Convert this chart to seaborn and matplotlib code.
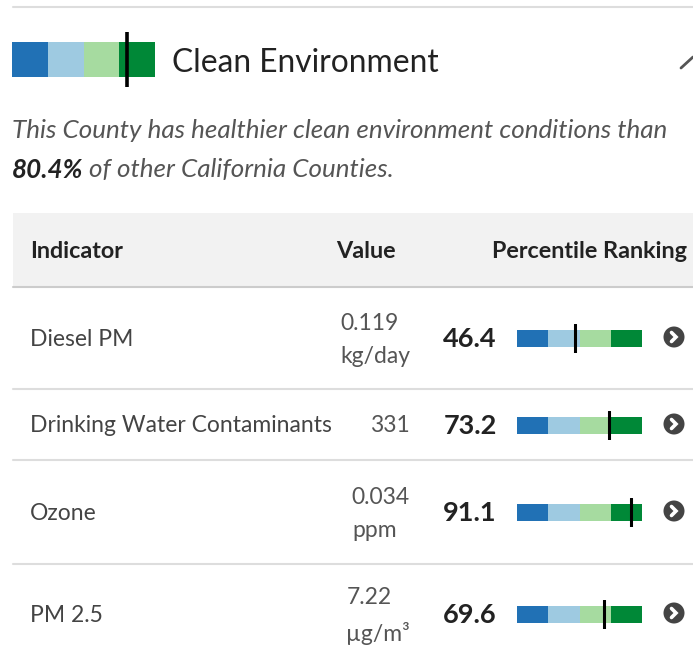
import matplotlib
matplotlib.use("Agg")
import matplotlib.pyplot as plt
from matplotlib.colors import ListedColormap
from matplotlib.patches import Circle, Rectangle
import numpy as np
import seaborn as sns

# ---- data ----
section_title = "Clean Environment"
overall_percentile = 80.4
indicators = ["Diesel PM", "Drinking Water Contaminants", "Ozone", "PM 2.5"]
values = ["0.119", "331", "0.034", "7.22"]
units = ["kg/day", "", "ppm", "µg/m³"]
percentiles = [46.4, 73.2, 91.1, 69.6]
quartile_colors = ["#2171b5", "#9ecae1", "#a6dba0", "#008837"]
header_labels = ["Indicator", "Value", "Percentile Ranking"]

sns.set_style("white")
plt.rcParams["font.family"] = ["Lato", "DejaVu Sans"]

W, H = 693, 648
fig = plt.figure(figsize=(W / 100, H / 100), dpi=100)
ax = fig.add_axes([0, 0, 1, 1])
ax.set_xlim(0, W)
ax.set_ylim(H, 0)
ax.axis("off")

cmap = ListedColormap(quartile_colors)


def gauge(x0, x1, y0, y1, pct, lw, ext):
    """Draw a quartile gauge in pixel box (x0..x1, y0..y1)."""
    iax = fig.add_axes([x0 / W, 1 - (y1 + ext) / H, (x1 - x0) / W, (y1 - y0 + 2 * ext) / H])
    sns.heatmap(np.array([[0, 1, 2, 3]]), cmap=cmap, cbar=False, ax=iax,
                xticklabels=False, yticklabels=False, vmin=-0.5, vmax=3.5)
    frac = ext / (y1 - y0)
    iax.set_ylim(1 + frac, -frac)
    iax.set_xlim(0, 4)
    iax.axvline(pct / 25.0, color="black", lw=lw, ymin=0, ymax=1)
    iax.patch.set_alpha(0)
    iax.axis("off")


# top rule
ax.plot([13, W], [7, 7], color="#dddddd", lw=1.5)

# header gauge + title
gauge(12, 155, 42, 77, overall_percentile, 2.6, 10)
ax.text(172, 63, section_title, fontsize=22.9, color="#222222", va="center", ha="left")
ax.plot([681, 693], [68, 57], color="#555555", lw=2)

# description
ax.text(12, 131, "This County has healthier clean environment conditions than",
        fontsize=18.7, style="italic", color="#555555", va="center", ha="left")
t1 = ax.text(12, 170, f"{overall_percentile}%", fontsize=18.7, style="italic",
             fontweight="bold", color="#222222", va="center", ha="left")
fig.canvas.draw()
r = fig.canvas.get_renderer()
bb = t1.get_window_extent(r)
ax.text(bb.x1 + 6, 170, "of other California Counties.", fontsize=18.7, style="italic",
        color="#555555", va="center", ha="left")

# table header
ax.add_patch(Rectangle((13, 213), W - 13, 74, color="#f2f2f2", lw=0))
ax.plot([13, W], [287, 287], color="#cccccc", lw=1.5)
ax.text(30, 251, header_labels[0], fontsize=16.8, fontweight="bold", color="#222222", va="center")
ax.text(396, 251, header_labels[1], fontsize=16.8, fontweight="bold", color="#222222", va="center", ha="right")
ax.text(687, 251, header_labels[2], fontsize=16.8, fontweight="bold", color="#222222", va="center", ha="right")

row_centers = [338, 425, 512, 614]
row_bottoms = [389, 460, 564]
bar_half = 8.5

for i, (name, val, unit, pct) in enumerate(zip(indicators, values, units, percentiles)):
    yc = row_centers[i]
    ax.text(30, yc + 1, name, fontsize=16.5, color="#444444", va="center", ha="left")
    txt = val if not unit else f"{val}\n{unit}"
    ax.text(410, yc + (2 if unit else 0), txt, fontsize=16.5, color="#555555", va="center",
            ha="right", multialignment="left", linespacing=1.75)
    ax.text(497, yc + 1, f"{pct}", fontsize=19.5, fontweight="bold", color="#222222",
            va="center", ha="right")
    gauge(517, 642, yc - bar_half, yc + bar_half, pct, 2.2, 6)
    cx, cy = 674, yc - 1
    ax.add_patch(Circle((cx, cy), 10.5, color="#444444", lw=0))
    ax.plot([cx - 2.5, cx + 2, cx - 2.5], [cy - 4.5, cy, cy + 4.5], color="white",
            lw=2.6, solid_capstyle="round", solid_joinstyle="miter")
    if i < len(row_bottoms):
        ax.plot([13, W], [row_bottoms[i], row_bottoms[i]], color="#dddddd", lw=1.5)

fig.savefig("out.png", dpi=100, facecolor="white")
